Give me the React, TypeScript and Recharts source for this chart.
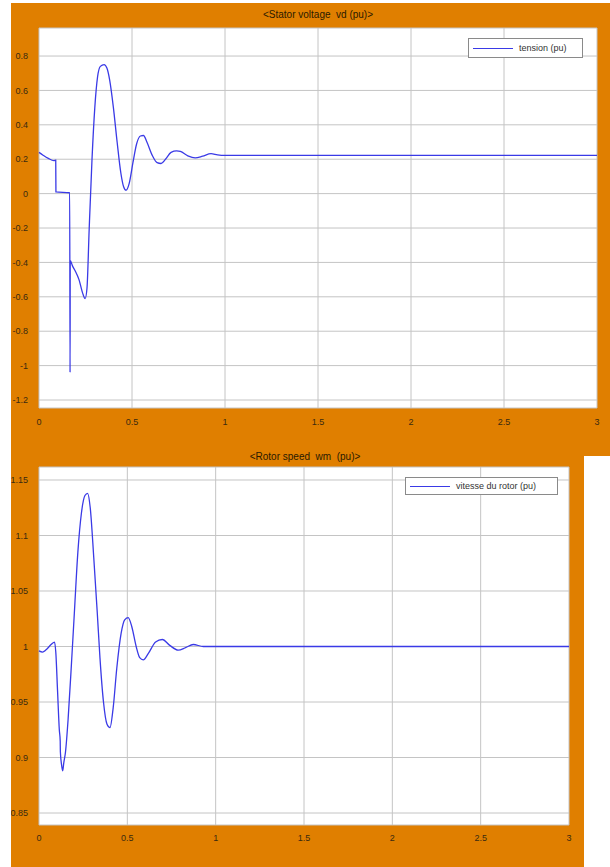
import React from 'react';
import { LineChart, Line, XAxis, YAxis, CartesianGrid, Legend } from 'recharts';

// time axis (s)
const timeTicks = [0, 0.5, 1, 1.5, 2, 2.5, 3];

// stator voltage vd (pu)
const vdTime = [
  0, 0.02, 0.05, 0.08, 0.09, 0.091, 0.165, 0.167, 0.168, 0.18, 0.195, 0.215, 0.235, 0.248,
  0.258, 0.27, 0.285, 0.3, 0.315, 0.33, 0.35, 0.365, 0.38, 0.4, 0.42, 0.44, 0.455, 0.468,
  0.485, 0.505, 0.525, 0.545, 0.562, 0.58, 0.61, 0.635, 0.656, 0.68, 0.71, 0.74, 0.76, 0.8,
  0.84, 0.88, 0.925, 0.96, 1.0, 3.0,
];
const vdValue = [
  0.24, 0.225, 0.205, 0.192, 0.195, 0.01, 0.005, -1.04, -0.39, -0.42, -0.45, -0.5, -0.58, -0.61,
  -0.55, -0.2, 0.2, 0.5, 0.68, 0.74, 0.75, 0.73, 0.66, 0.5, 0.3, 0.12, 0.04, 0.02,
  0.06, 0.18, 0.29, 0.335, 0.338, 0.3, 0.22, 0.18, 0.175, 0.2, 0.24, 0.248, 0.245, 0.22,
  0.208, 0.218, 0.232, 0.225, 0.222, 0.222,
];
const vdTicks = [0.8, 0.6, 0.4, 0.2, 0, -0.2, -0.4, -0.6, -0.8, -1, -1.2];

// rotor speed wm (pu)
const wmTime = [
  0, 0.02, 0.04, 0.07, 0.088, 0.095, 0.105, 0.115, 0.12, 0.121, 0.128, 0.134, 0.14, 0.15,
  0.165, 0.185, 0.2, 0.22, 0.24, 0.26, 0.275, 0.29, 0.31, 0.33, 0.345, 0.365, 0.385, 0.402,
  0.42, 0.44, 0.465, 0.485, 0.505, 0.525, 0.55, 0.57, 0.59, 0.62, 0.66, 0.698, 0.74, 0.788,
  0.83, 0.873, 0.93, 1.0, 3.0,
];
const wmValue = [
  0.996, 0.995, 0.997, 1.002, 1.004, 0.995, 0.96, 0.925, 0.915, 0.905, 0.893, 0.888, 0.895, 0.905,
  0.935, 0.988, 1.03, 1.085, 1.12, 1.136, 1.138, 1.125, 1.08, 1.03, 0.99, 0.95, 0.93, 0.927,
  0.945, 0.98, 1.012, 1.024, 1.026, 1.018, 1.0, 0.99, 0.988, 0.994, 1.004, 1.0063, 1.001, 0.9967,
  0.999, 1.0018, 1.0, 1.0, 1.0,
];
const wmTicks = [0.85, 0.9, 0.95, 1, 1.05, 1.1, 1.15];

const ORANGE = '#e07f00';
const BLUE = '#3a3ae6';
const FONT = '"Liberation Sans", Arial, sans-serif';

const vdData = vdTime.map((t, i) => ({ t, v: vdValue[i] }));
const wmData = wmTime.map((t, i) => ({ t, v: wmValue[i] }));

function LegendBox({ label, width, height }: { label: string; width: number; height: number }) {
  return (
    <div
      style={{
        width,
        height,
        boxSizing: 'border-box',
        border: '1px solid #8a8a8a',
        background: '#fff',
        display: 'flex',
        alignItems: 'center',
        fontFamily: FONT,
        fontSize: 9,
        color: '#333',
      }}
    >
      <span style={{ display: 'inline-block', width: 40, height: 0, borderTop: `1.5px solid ${BLUE}`, margin: '0 6px 0 4px' }} />
      <span>{label}</span>
    </div>
  );
}

interface PanelProps {
  data: { t: number; v: number }[];
  width: number;
  height: number;
  margin: { top: number; right: number; bottom: number; left: number };
  domain: [number, number];
  yTicks: number[];
  legend: string;
  legendWidth: number;
  legendHeight: number;
  legendTop: number;
  legendLeft: number;
  xTickMargin: number;
}

function Panel(p: PanelProps) {
  const tickStyle = { fill: '#3a2a10', fontSize: 9, fontFamily: FONT };
  return (
    <LineChart width={p.width} height={p.height} data={p.data} margin={p.margin}>
      <CartesianGrid stroke="#c4c4c4" fill="#fff" strokeWidth={1} />
      <XAxis
        dataKey="t"
        type="number"
        domain={[0, 3]}
        ticks={timeTicks}
        tickFormatter={(v: number) => String(v)}
        axisLine={false}
        tickLine={false}
        tick={tickStyle}
        tickMargin={p.xTickMargin}
        height={20}
        interval={0}
      />
      <YAxis
        type="number"
        domain={p.domain}
        allowDataOverflow
        ticks={p.yTicks}
        tickFormatter={(v: number) => String(v)}
        axisLine={false}
        tickLine={false}
        tick={tickStyle}
        tickMargin={5}
        width={24}
        interval={0}
      />
      <Legend
        layout="horizontal"
        verticalAlign="middle"
        align="center"
        wrapperStyle={{ top: p.legendTop, left: p.legendLeft, width: p.legendWidth, height: p.legendHeight }}
        content={() => <LegendBox label={p.legend} width={p.legendWidth} height={p.legendHeight} />}
      />
      <Line
        type="monotone"
        dataKey="v"
        stroke={BLUE}
        strokeWidth={1.3}
        dot={false}
        isAnimationActive={false}
        name={p.legend}
      />
    </LineChart>
  );
}

export default function App() {
  const titleStyle: React.CSSProperties = {
    position: 'absolute',
    fontFamily: FONT,
    fontSize: 10,
    color: '#2a1a00',
    whiteSpace: 'pre',
    transform: 'translateX(-50%)',
    lineHeight: '12px',
  };
  return (
    <div style={{ position: 'absolute', left: 0, top: 0, width: 610, height: 867, background: '#fff', overflow: 'hidden' }}>
      <div style={{ position: 'absolute', left: 11, top: 3, width: 599, height: 453, background: ORANGE }}>
        <Panel
          data={vdData}
          width={599}
          height={453}
          margin={{ top: 25, right: 13, bottom: 28, left: 4 }}
          domain={[-1.2465, 0.963]}
          yTicks={vdTicks}
          legend="tension (pu)"
          legendWidth={115}
          legendHeight={20}
          legendTop={35}
          legendLeft={457}
          xTickMargin={5}
        />
      </div>
      <div style={{ position: 'absolute', left: 11, top: 456, width: 573, height: 411, background: ORANGE }}>
        <Panel
          data={wmData}
          width={573}
          height={411}
          margin={{ top: 11, right: 15, bottom: 22, left: 4 }}
          domain={[0.8392, 1.1617]}
          yTicks={wmTicks}
          legend="vitesse du rotor (pu)"
          legendWidth={153}
          legendHeight={18}
          legendTop={21}
          legendLeft={394}
          xTickMargin={4}
        />
      </div>
      <div style={{ ...titleStyle, left: 318, top: 9 }}>{'<Stator voltage  vd (pu)>'}</div>
      <div style={{ ...titleStyle, left: 305, top: 451 }}>{'<Rotor speed  wm  (pu)>'}</div>
    </div>
  );
}
